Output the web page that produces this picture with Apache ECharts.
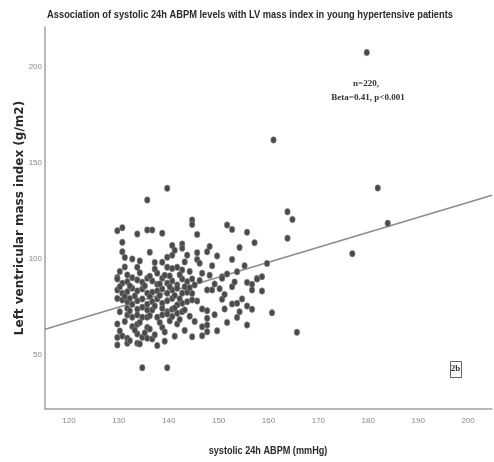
<!doctype html>
<html>
<head>
<meta charset="UTF-8">
<title>LV mass index vs systolic 24h ABPM</title>
<script src="https://cdn.jsdelivr.net/npm/echarts@6/dist/echarts.min.js"></script>
<style>
  html, body { margin: 0; padding: 0; background: #fff; }
  #chart { width: 494px; height: 462px; }
</style>
</head>
<body>
<div id="chart"></div>
<script>
// systolic 24h ABPM (mmHg) and LV mass index (g/m2)
var sbp = [
  // sparse points / outliers
  179.7, 181.9, 183.9, 163.8, 164.8, 163.8, 159.7, 158.7, 158.7, 160.7, 165.7, 176.8, 139.7, 135.7, 161,
  // upper part of the cloud
  144.7, 144.7, 129.7, 130.7, 133.7, 135.7, 136.7, 138.7, 130.7, 130.7, 132.7, 140.7, 142.7, 142.7, 143.7,
  139.7, 140.7, 138.7, 139.7, 133.7, 141.7, 142.7, 140.7, 129.7, 131.7, 137.7, 151.7, 152.7, 155.7, 145.7,
  145.7, 145.7, 147.7, 149.7, 152.7, 148.7, 146.7, 150.7, 151.7, 153.7, 157.7,
  // lower right part
  144.7, 150.7, 155.7, 156.7, 156.7, 157.7, 147.7, 148.7, 152.7, 144.7, 145.7, 150.7, 152.7, 153.7, 154.7,
  155.7, 156.7, 146.7, 147.7, 147.7, 147.7, 146.7, 151.7, 153.7, 155.7, 147.7, 146.7, 149.7, 144.7,
  // dense core
  129.7, 130.7, 131.7, 132.7, 133.7, 134.7, 135.7, 136.7, 137.7, 138.7, 139.7, 140.7, 141.7, 142.7, 143.7,
  129.7, 130.7, 131.7, 132.7, 133.7, 134.7, 135.7, 136.7, 137.7, 138.7, 139.7, 140.7, 141.7, 142.7, 143.7,
  129.7, 130.7, 131.7, 132.7, 133.7, 134.7, 135.7, 136.7, 137.7, 138.7, 139.7, 140.7,
  131.7, 133.7, 134.7, 135.7, 136.7, 138.7, 139.7, 140.7, 141.7, 142.7, 143.7, 144.7,
  131.7, 132.7, 133.7, 134.7, 135.7, 137.7, 138.7, 139.7, 140.7, 141.7, 142.7,
  129.7, 132.7, 133.7, 135.7, 138.7, 141.7,
  129.7, 130.7, 131.7, 129.7, 131.7, 133.7, 133.7, 134.7, 135.7, 136.7, 137.7,
  134.7, 139.7,
  130.2, 131.2, 132.2, 133.2, 134.2, 135.2, 136.2, 137.2, 138.2, 139.2, 140.2, 141.2, 142.2, 143.2, 144.2,
  130.2, 131.2, 132.2, 133.2, 134.2, 135.2, 136.2, 137.2, 138.2, 139.2, 140.2, 141.2, 142.2, 143.2, 144.2,
  130.2, 131.2, 132.2, 136.2, 138.2, 140.2, 142.2, 144.2, 145.2, 146.2, 148.2, 149.2, 150.2, 151.2, 153.2,
  130.2, 132.2, 134.2, 136.2, 137.2, 139.2, 141.2, 143.2, 145.2, 149.2, 151.2, 154.2,
  131.2, 134.2, 136.2, 137.2, 141.2, 143.2, 146.2, 148.2, 155.2, 154.2, 157.2
];
var lvmi = [
  207.5, 137, 118.6, 124.6, 120.6, 110.8, 97.7, 90.8, 83.3, 72, 61.8, 102.8, 136.8, 130.7, 162,
  120.3, 118, 114.7, 116.3, 113, 115.1, 115.1, 113.4, 108.7, 103.8, 100, 107, 107.8, 105.6, 102,
  100.9, 102, 98.3, 95.7, 95.7, 95.7, 94.3, 95, 90.4, 91.7, 92.6, 117.7, 115.4, 113.9, 112.8,
  103.3, 99.8, 103.8, 101.6, 99.8, 96.5, 92.6, 90.8, 92.2, 93.4, 89.9,
  89.6, 90, 87.8, 86.8, 83.9, 89.6, 83.9, 83.9, 85.6, 82.1, 78.1, 79, 76.6, 76.9, 79.2,
  75.5, 73.8, 74, 73.1, 69.1, 65.6, 64.7, 67, 69.6, 65.6, 62.1, 60, 62.6, 59.5,
  89.6, 87.4, 88.2, 90.3, 89.1, 87.9, 90, 88.6, 86.8, 90, 87.4, 88.6, 86.5, 89.6, 88.2,
  83.9, 82.2, 83, 84.8, 83.4, 84.4, 82.2, 82.7, 83.4, 84.4, 82.2, 83.9, 84.8, 82.2, 82.7,
  79.5, 78.7, 77.8, 76.4, 78.2, 79.2, 76.4, 77.8, 79.2, 76.9, 78.2, 79.5,
  74.3, 73.8, 74.9, 73.5, 73.5, 74.3, 72.6, 73.8, 76.1, 76.9, 77.8, 78.7,
  70.9, 69.7, 70.9, 69.7, 69.7, 69.7, 70.9, 71.4, 70, 71.7, 72.6,
  66.2, 64.8, 66, 64.4, 64.4, 66.2,
  59.1, 59.9, 58.7, 55.2, 56.1, 61, 56.1, 59.2, 58.7, 58.4, 54.9,
  43.4, 43.4,
  93.5, 95.8, 86, 80.8, 92.8, 86, 80.5, 94.8, 81, 91.5, 85.5, 81, 91.8, 85.5, 93.5,
  72.5, 67.5, 73, 63, 67, 61.5, 70.5, 75.5, 67, 62, 67.8, 74.5, 68.5, 73.5, 70.2,
  85.5, 80.5, 79.5, 91, 87, 91.2, 79.3, 85, 86.5, 88.8, 91.5, 87, 84.5, 81.5, 88,
  62.5, 57.5, 55.8, 63.5, 60.5, 57.2, 59.8, 62.8, 67.5, 71, 74, 72.5,
  100.8, 99, 103.5, 98.2, 104.5, 98.5, 97.8, 106.5, 96.5, 106, 108.5
];
// fit line end points (left and right edge of the plot)
var fitX = [115.2, 204.8];
var fitY = [63.4, 133.2];
var xTicks = [120, 130, 140, 150, 160, 170, 180, 190, 200];
var yTicks = [50, 100, 150, 200];

var points = [];
for (var i = 0; i < sbp.length && i < lvmi.length; i++) {
  points.push([sbp[i], lvmi[i]]);
}
var fitLine = [];
for (var j = 0; j < fitX.length; j++) {
  fitLine.push([fitX[j], fitY[j]]);
}

var sans = "'Liberation Sans', Arial, sans-serif";
var serif = '"Liberation Serif", "Times New Roman", serif';
var chart = echarts.init(document.getElementById('chart'));
var option = {
  animation: false,
  grid: { left: 45, right: 2, top: 27, bottom: 53, containLabel: false, outerBoundsMode: 'none' },
  xAxis: {
    type: 'value',
    min: 115.2,
    max: 204.8,
    axisLine: { lineStyle: { color: '#a0a0a0', width: 1.5 } },
    axisTick: { show: false },
    splitLine: { show: false },
    axisLabel: { customValues: xTicks, margin: 8, fontFamily: sans, fontSize: 8, color: '#8a8a8a' }
  },
  yAxis: {
    type: 'value',
    min: 21.9,
    max: 220.8,
    axisLine: { show: true, lineStyle: { color: '#a0a0a0', width: 1.5 } },
    axisTick: { show: false },
    splitLine: { show: false },
    axisLabel: { customValues: yTicks, margin: 3, fontFamily: sans, fontSize: 8, color: '#8a8a8a' }
  },
  series: [
    {
      type: 'line',
      data: fitLine,
      symbol: 'none',
      z: 1,
      lineStyle: { color: '#8c8c8c', width: 1.5 }
    },
    {
      type: 'scatter',
      data: points,
      symbol: 'circle',
      symbolSize: [5.5, 6.5],
      z: 2,
      itemStyle: { color: '#4a4a4a', borderColor: '#8a8a8a', borderWidth: 0.6, opacity: 1 }
    }
  ],
  graphic: [
    {
      // chart title (narrow bold)
      type: 'text',
      x: 250, y: 15, scaleX: 0.845,
      style: {
        text: 'Association of systolic 24h ABPM levels with LV mass index in young hypertensive patients',
        font: 'bold 11px ' + sans, fill: '#2a2a2a', align: 'center', verticalAlign: 'middle'
      }
    },
    {
      // x axis title
      type: 'text',
      x: 268, y: 451, scaleX: 0.83,
      style: {
        text: 'systolic 24h ABPM (mmHg)',
        font: 'bold 11px ' + sans, fill: '#2a2a2a', align: 'center', verticalAlign: 'middle'
      }
    },
    {
      // y axis title
      type: 'text',
      x: 20, y: 218, rotation: Math.PI / 2,
      style: {
        text: 'Left ventricular mass index (g/m2)',
        font: "bold 12px 'DejaVu Sans', sans-serif", fill: '#2a2a2a', align: 'center', verticalAlign: 'middle'
      }
    },
    {
      type: 'text',
      x: 366, y: 84,
      style: { text: 'n=220,', font: 'bold 9px ' + serif, fill: '#333', align: 'center', verticalAlign: 'middle' }
    },
    {
      type: 'text',
      x: 368, y: 98,
      style: { text: 'Beta=0.41, p<0.001', font: 'bold 9px ' + serif, fill: '#333', align: 'center', verticalAlign: 'middle' }
    },
    {
      type: 'rect',
      left: 450, top: 361,
      shape: { width: 11, height: 16 },
      style: { fill: '#fff', stroke: '#666', lineWidth: 1 }
    },
    {
      type: 'text',
      x: 455.5, y: 369,
      style: { text: '2b', font: 'bold 9px ' + serif, fill: '#333', align: 'center', verticalAlign: 'middle' }
    }
  ]
};
chart.setOption(option);
</script>
</body>
</html>
